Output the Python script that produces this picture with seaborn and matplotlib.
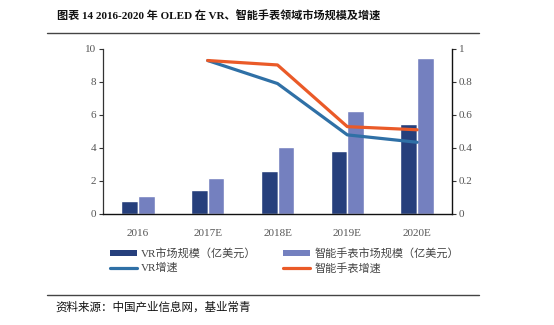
import numpy as np
import pandas as pd
import matplotlib
matplotlib.use("Agg")
import matplotlib.pyplot as plt
from matplotlib.lines import Line2D
from matplotlib.patches import Patch
import seaborn as sns

years = ["2016", "2017E", "2018E", "2019E", "2020E"]
vr_market = [0.73, 1.43, 2.58, 3.82, 5.46]
watch_market = [1.09, 2.14, 4.06, 6.23, 9.44]
growth_years = ["2017E", "2018E", "2019E", "2020E"]
vr_growth = [0.93, 0.79, 0.478, 0.433]
watch_growth = [0.93, 0.903, 0.528, 0.509]

s_vr_mkt = "VR市场规模（亿美元）"
s_w_mkt = "智能手表市场规模（亿美元）"
s_vr_g = "VR增速"
s_w_g = "智能手表增速"

c_dark = "#263f7c"
c_light = "#7480bf"
c_blue = "#2f70a6"
c_orange = "#ea5a28"

sns.set_theme(style="white")
cjk = ["Noto Sans CJK SC", "DejaVu Sans"]
mixed = ["Liberation Serif", "Noto Sans CJK SC", "DejaVu Sans"]
plt.rcParams["font.family"] = cjk

fig = plt.figure(figsize=(5.54, 3.25), dpi=100)
ax = fig.add_axes([103/554, 1-213.5/325, (452-103)/554, (213.5-49)/325])

df = pd.DataFrame({
    "year": years * 2,
    "value": vr_market + watch_market,
    "series": [s_vr_mkt] * len(years) + [s_w_mkt] * len(years),
})
sns.barplot(data=df, x="year", y="value", hue="series", order=years,
            hue_order=[s_vr_mkt, s_w_mkt], palette=[c_dark, c_light],
            width=0.48, saturation=1, ax=ax, legend=False, gap=0)
ax.set_xlim(-0.5, len(years) - 0.5)
ax.set_ylim(0, 10)
ax.set_yticks(np.arange(0, 11, 2))
ax.set_xlabel("")
ax.set_ylabel("")

ax2 = ax.twinx()
pos = {y: i for i, y in enumerate(years)}
gx = [pos[y] for y in growth_years]
gdf = pd.DataFrame({
    "x": gx * 2,
    "g": vr_growth + watch_growth,
    "series": [s_vr_g] * len(gx) + [s_w_g] * len(gx),
})
sns.lineplot(data=gdf, x="x", y="g", hue="series", hue_order=[s_vr_g, s_w_g],
             palette=[c_blue, c_orange], linewidth=2.3, ax=ax2, legend=False)
ax2.set_ylim(0, 1)
ax2.set_yticks([0, 0.2, 0.4, 0.6, 0.8, 1])
ax2.set_yticklabels(["0", "0.2", "0.4", "0.6", "0.8", "1"])
ax2.set_xlim(-0.5, len(years) - 0.5)
ax2.set_xlabel("")
ax2.set_ylabel("")

serif = ["Liberation Serif", "DejaVu Serif"]
tick_col = "#555555"
for a in (ax, ax2):
    for sp in a.spines.values():
        sp.set_visible(False)
    a.tick_params(axis="y", length=3, width=0.8, color="#333333",
                  labelsize=8, labelcolor=tick_col, pad=2)
    for lab in a.get_yticklabels():
        lab.set_fontfamily(serif)
ax.spines["left"].set_visible(True)
ax.spines["left"].set_color("#333333")
ax.spines["left"].set_linewidth(0.9)
ax.spines["bottom"].set_visible(True)
ax.spines["bottom"].set_color("#111111")
ax.spines["bottom"].set_linewidth(1.0)
ax2.spines["right"].set_visible(True)
ax2.spines["right"].set_color("#111111")
ax2.spines["right"].set_linewidth(1.0)
ax.tick_params(axis="y", left=True, direction="out")
ax2.tick_params(axis="y", right=True, direction="out")
ax.tick_params(axis="x", bottom=False, labelsize=8, labelcolor=tick_col, pad=5)
for lab in ax.get_xticklabels():
    lab.set_fontfamily(serif)
ax2.tick_params(axis="x", bottom=False, top=False)

handles = [Patch(facecolor=c_dark, edgecolor="none"),
           Line2D([0], [0], color=c_blue, lw=2.3),
           Patch(facecolor=c_light, edgecolor="none"),
           Line2D([0], [0], color=c_orange, lw=2.3)]
labels = [s_vr_mkt, s_vr_g, s_w_mkt, s_w_g]
leg = fig.legend(handles, labels, ncol=2, loc="upper left",
                 bbox_to_anchor=(100/554, 1-238/325), frameon=False,
                 prop={"family": mixed, "size": 8},
                 handlelength=2.4, handleheight=0.5,
                 handletextpad=0.4, columnspacing=2.4, labelspacing=0.35)
for t in leg.get_texts():
    t.set_color("#444444")

fig.text(57/554, 1-16/325, "图表 14 2016-2020 年 OLED 在 VR、智能手表领域市场规模及增速",
         fontsize=8.0, fontweight="bold", color="#111111", va="center", ha="left",
         family=mixed)
fig.add_artist(Line2D([47/554, 479/554], [1-33/325, 1-33/325], color="#444444", lw=1.0))
fig.add_artist(Line2D([47/554, 479/554], [1-295/325, 1-295/325], color="#444444", lw=1.0))
fig.text(55/554, 1-307/325, "资料来源：中国产业信息网，基业常青",
         fontsize=8.3, color="#111111", va="center", ha="left")

fig.savefig("out.png", dpi=100)
